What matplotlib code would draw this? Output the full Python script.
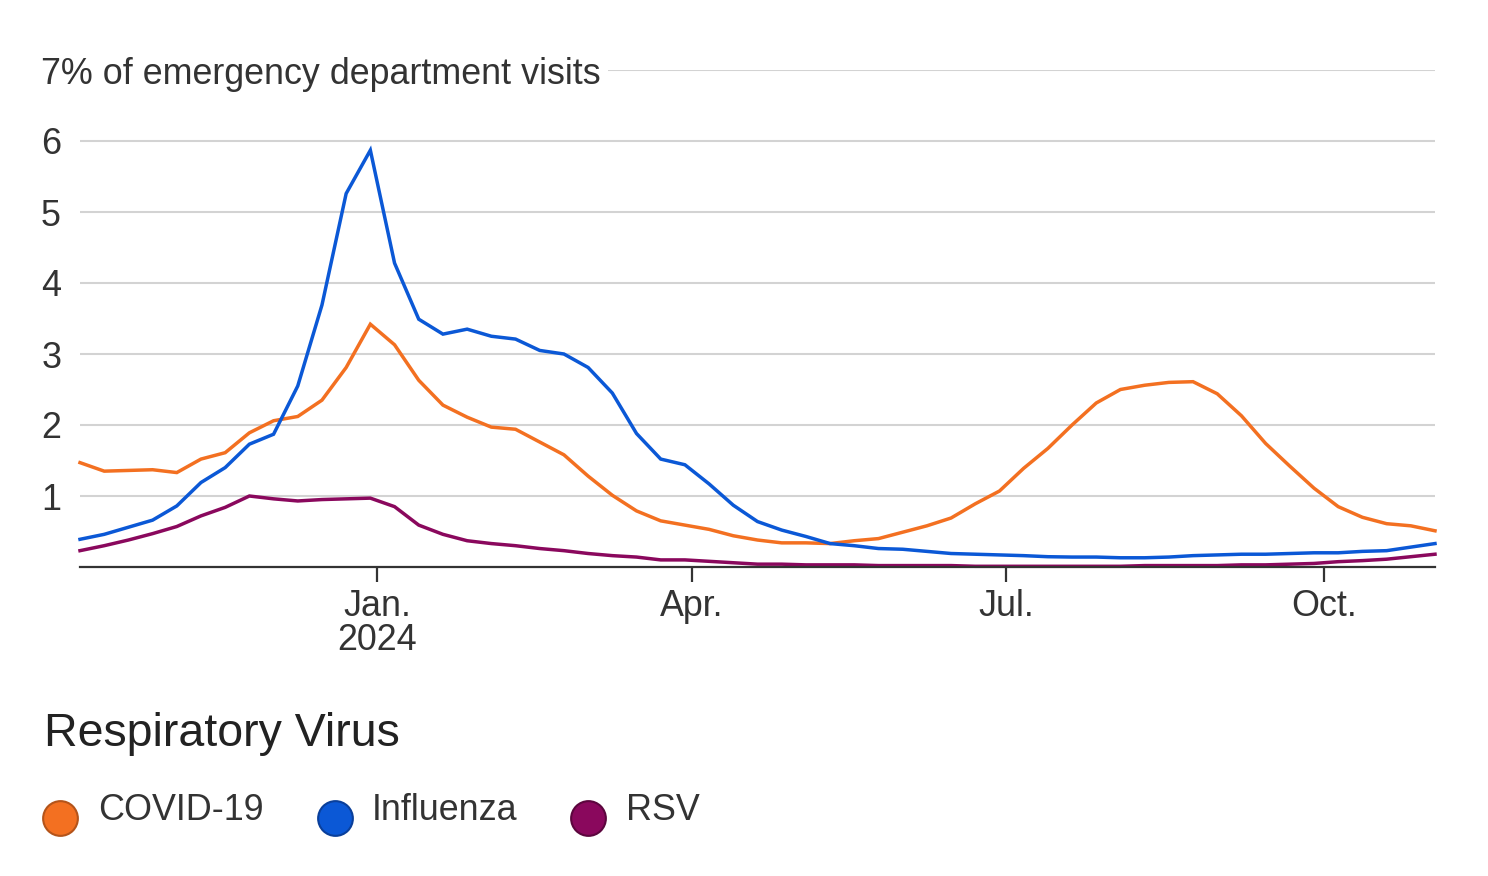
import numpy as np
import pandas as pd
import matplotlib
matplotlib.use('Agg')
import matplotlib.pyplot as plt
import matplotlib.dates as mdates
from matplotlib.lines import Line2D

plt.rcParams['font.family'] = ['Liberation Sans', 'DejaVu Sans']

# Datos (semanas terminadas en sábado)
semanas = pd.date_range('2023-10-07', periods=57, freq='7D')

covid = [1.47, 1.35, 1.36, 1.37, 1.33, 1.52, 1.61, 1.89, 2.06, 2.12, 2.35, 2.81, 3.42, 3.13, 2.63,
         2.28, 2.11, 1.97, 1.94, 1.76, 1.58, 1.28, 1.01, 0.79, 0.65, 0.59, 0.53, 0.44, 0.38,
         0.34, 0.34, 0.33, 0.37, 0.40, 0.49, 0.58, 0.69, 0.89, 1.07, 1.39, 1.67, 2.00, 2.31,
         2.50, 2.56, 2.60, 2.61, 2.44, 2.13, 1.74, 1.42, 1.11, 0.85, 0.70, 0.61, 0.58, 0.51]

flu = [0.39, 0.46, 0.56, 0.66, 0.86, 1.19, 1.40, 1.73, 1.87, 2.55, 3.69, 5.26, 5.87, 4.28, 3.49,
       3.28, 3.35, 3.25, 3.21, 3.05, 3.00, 2.81, 2.45, 1.88, 1.52, 1.44, 1.17, 0.87, 0.64,
       0.52, 0.43, 0.33, 0.30, 0.26, 0.25, 0.22, 0.19, 0.18, 0.17, 0.16, 0.145, 0.14, 0.14,
       0.13, 0.13, 0.14, 0.16, 0.17, 0.18, 0.18, 0.19, 0.20, 0.20, 0.22, 0.23, 0.28, 0.33]

rsv = [0.23, 0.30, 0.38, 0.47, 0.57, 0.72, 0.84, 1.00, 0.96, 0.93, 0.95, 0.96, 0.97, 0.85, 0.59,
       0.46, 0.37, 0.33, 0.30, 0.26, 0.23, 0.19, 0.16, 0.14, 0.10, 0.10, 0.08, 0.06, 0.04,
       0.04, 0.03, 0.03, 0.03, 0.02, 0.02, 0.02, 0.02, 0.01, 0.01, 0.01, 0.01, 0.01, 0.01,
       0.01, 0.02, 0.02, 0.02, 0.02, 0.03, 0.03, 0.04, 0.05, 0.075, 0.09, 0.11, 0.145, 0.18]

nombres = ['COVID-19', 'Influenza', 'RSV']
colores = ['#F37021', '#0B58D6', '#8A085D']
bordes = ['#B4541A', '#0A3F9A', '#5C063E']

y_ticks = [1, 2, 3, 4, 5, 6, 7]
y_labels = ['1', '2', '3', '4', '5', '6', '7% of emergency department visits']
x_ticks = ['2024-01-01', '2024-04-01', '2024-07-01', '2024-10-01']
x_labels = ['Jan.\n2024', 'Apr.', 'Jul.', 'Oct.']

texto = '#333333'
fs = 25.8

# ===== Gráfico =====
fig = plt.figure(figsize=(14.88, 8.76), dpi=100)
ax = fig.add_axes([80/1488, 309/876, 1355/1488, 497/876])

for serie, nombre, color in zip([covid, flu, rsv], nombres, colores):
    ax.plot(semanas, serie, color=color, linewidth=2.5, label=nombre,
            solid_joinstyle='miter', clip_on=False, zorder=3)

ax.set_xlim(semanas[0], semanas[-1])
ax.set_ylim(0, 7)

# Eje y
ax.set_yticks(y_ticks)
ax.set_yticklabels(y_labels)
ax.tick_params(axis='y', length=0, pad=28, labelsize=fs, labelcolor=texto)
for lab in ax.get_yticklabels():
    lab.set_horizontalalignment('left')
ax.get_yticklabels()[-1].set_bbox(dict(facecolor='white', edgecolor='none', pad=5))
ax.yaxis.grid(True, color='#D3D3D3', linewidth=1.5)
ax.set_axisbelow(True)

# Eje x
ax.set_xticks(pd.to_datetime(x_ticks))
ax.set_xticklabels(x_labels, linespacing=0.95)
ax.tick_params(axis='x', length=11, width=1.6, color=texto, pad=5,
               labelsize=fs, labelcolor=texto)

for lado in ['top', 'right', 'left']:
    ax.spines[lado].set_visible(False)
ax.spines['bottom'].set_color(texto)
ax.spines['bottom'].set_linewidth(1.6)
ax.spines['bottom'].set_zorder(4)

# Leyenda
fig.text(44/1488, 1 - 734/876, 'Respiratory Virus', fontsize=33.5,
         color='#222222', va='center', ha='left')

cx = [60, 335, 588]
tx = [98, 372, 626]
for x_c, x_t, nombre, color, borde in zip(cx, tx, nombres, colores, bordes):
    fig.add_artist(Line2D([x_c/1488], [1 - 818/876], marker='o', markersize=25,
                          markerfacecolor=color, markeredgecolor=borde,
                          markeredgewidth=1.5, linestyle='none',
                          transform=fig.transFigure))
    fig.text(x_t/1488, 1 - 810/876, nombre, fontsize=fs, color=texto,
             va='center', ha='left')

fig.savefig('out.png', dpi=100)
